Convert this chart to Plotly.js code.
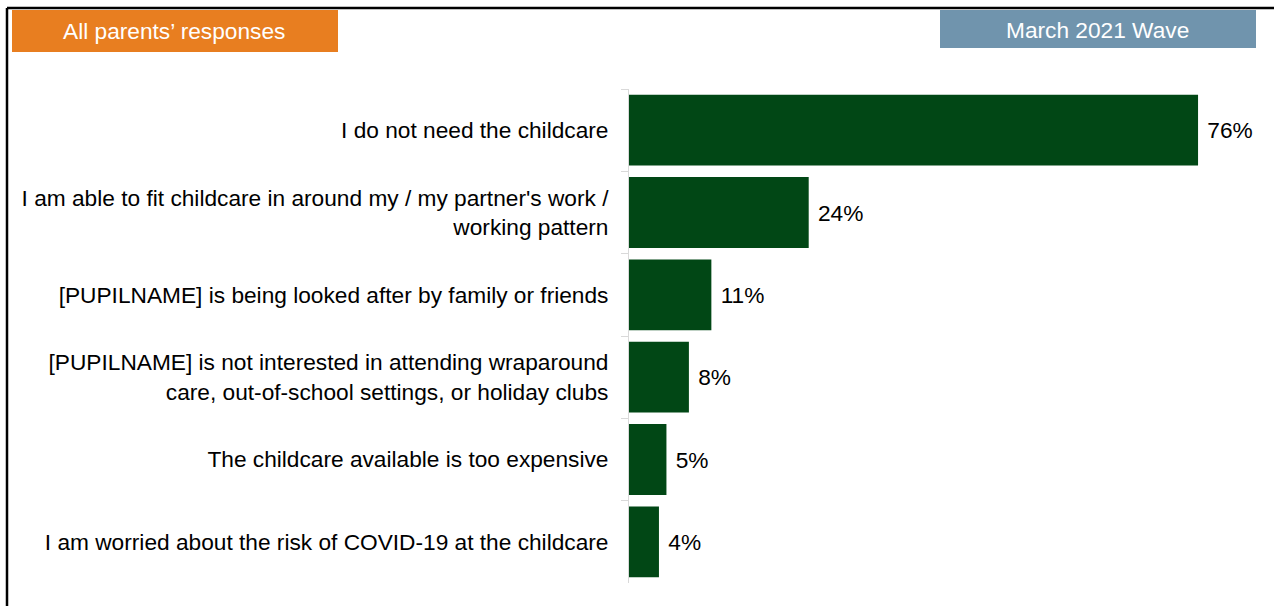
<!DOCTYPE html>
<html>
<head>
<meta charset="utf-8">
<script src="https://cdn.plot.ly/plotly-3.0.1.min.js"></script>
<style>
html,body{margin:0;padding:0;background:#fff;}
#chart{width:1274px;height:606px;}
</style>
</head>
<body>
<div id="chart"></div>
<script>
// Data
const categories = [
  "I do not need the childcare",
  "I am able to fit childcare in around my / my partner's work /<br>working pattern",
  "[PUPILNAME] is being looked after by family or friends",
  "[PUPILNAME] is not interested in attending wraparound<br>care, out-of-school settings, or holiday clubs",
  "The childcare available is too expensive",
  "I am worried about the risk of COVID-19 at the childcare"
];
const values = [76, 24, 11, 8, 5, 4];
const leftHeader = "All parents’ responses";
const rightHeader = "March 2021 Wave";

// Layout geometry (pixels)
const W = 1274, H = 606;
const L = 629, R = 46, T = 89, B = 23;
const pw = W - L - R, ph = H - T - B;
const px = x => (x - L) / pw;
const py = y => (H - B - y) / ph;

const FONT = "Arial, 'Liberation Sans', sans-serif";
const FS = 22.7;

const trace = {
  type: 'bar',
  orientation: 'h',
  x: values,
  y: categories,
  marker: {color: '#014715', line: {width: 0}},
  text: values.map(v => '\u00a0' + v + '%'),
  textposition: 'outside',
  textfont: {family: FONT, size: FS, color: '#000'},
  cliponaxis: false,
  constraintext: 'none',
  hoverinfo: 'skip'
};

const shapes = [
  // frame
  {type: 'line', xref: 'paper', yref: 'paper', x0: px(7), x1: px(1274), y0: py(8), y1: py(8), line: {color: '#000', width: 2.5}},
  {type: 'line', xref: 'paper', yref: 'paper', x0: px(7), x1: px(7), y0: py(8), y1: py(606), line: {color: '#000', width: 2.5}},
  // header boxes
  {type: 'rect', xref: 'paper', yref: 'paper', x0: px(12), x1: px(338), y0: py(10), y1: py(52), fillcolor: '#E87E20', line: {width: 0}, layer: 'above'},
  {type: 'rect', xref: 'paper', yref: 'paper', x0: px(940), x1: px(1256), y0: py(10), y1: py(48), fillcolor: '#7094AD', line: {width: 0}, layer: 'above'}
];

const annotations = [
  {xref: 'paper', yref: 'paper', x: px(174), y: py(31), text: leftHeader, showarrow: false, xanchor: 'center', yanchor: 'middle', font: {family: FONT, size: FS, color: '#fff'}},
  {xref: 'paper', yref: 'paper', x: px(1097), y: py(30), text: rightHeader, showarrow: false, xanchor: 'center', yanchor: 'middle', font: {family: FONT, size: FS, color: '#fff'}}
];

const layout = {
  width: W, height: H,
  margin: {l: L, r: R, t: T, b: B, pad: 0},
  paper_bgcolor: '#fff', plot_bgcolor: '#fff',
  showlegend: false,
  bargap: 0.14,
  xaxis: {range: [0, 80], visible: false, fixedrange: true},
  yaxis: {
    type: 'category',
    autorange: 'reversed',
    showline: true, linecolor: '#D9D9D9', linewidth: 1,
    ticks: 'outside', tickson: 'boundaries', ticklen: 7, tickcolor: '#D9D9D9', tickwidth: 1,
    ticklabelstandoff: 15,
    showgrid: false, zeroline: false,
    tickfont: {family: FONT, size: FS, color: '#000'},
    fixedrange: true
  },
  shapes: shapes,
  annotations: annotations,
  font: {family: FONT}
};

Plotly.newPlot('chart', [trace], layout, {displayModeBar: false, staticPlot: true});
</script>
</body>
</html>
